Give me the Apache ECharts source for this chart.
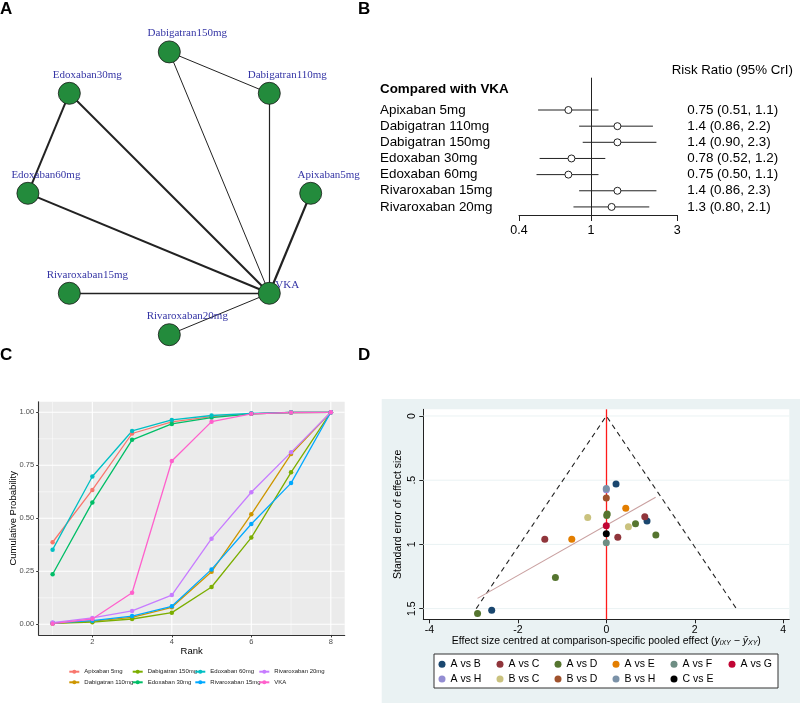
<!DOCTYPE html>
<html><head><meta charset="utf-8">
<script src="https://cdn.jsdelivr.net/npm/echarts@6/dist/echarts.min.js"></script>
<style>html,body{margin:0;padding:0;background:#fff}#c{width:800px;height:703px}</style>
</head><body><div id="c"></div>
<script>
// ---------- Panel A: network ----------
const nodeNames = ['Apixaban5mg','VKA','Rivaroxaban20mg','Rivaroxaban15mg','Edoxaban60mg','Edoxaban30mg','Dabigatran150mg','Dabigatran110mg'];
const nodeAngles = [0, 45, 90, 135, 180, 225, 270, 315]; // circle layout, degrees clockwise from right
const edgeSources = ['Dabigatran150mg','Dabigatran150mg','Dabigatran110mg','Edoxaban30mg','Edoxaban30mg','Edoxaban60mg','Apixaban5mg','Rivaroxaban15mg','Rivaroxaban20mg'];
const edgeTargets = ['Dabigatran110mg','VKA','VKA','VKA','Edoxaban60mg','VKA','VKA','VKA','VKA'];
const edgeWeights = [1, 1, 1.2, 2, 2, 2, 2.2, 1.3, 1];

// ---------- Panel B: forest ----------
const forestLabels = ['Apixaban 5mg','Dabigatran 110mg','Dabigatran 150mg','Edoxaban 30mg','Edoxaban 60mg','Rivaroxaban 15mg','Rivaroxaban 20mg'];
const rrEst  = [0.75, 1.4, 1.4, 0.78, 0.75, 1.4, 1.3];
const rrLow  = [0.51, 0.86, 0.90, 0.52, 0.50, 0.86, 0.80];
const rrHigh = [1.1, 2.2, 2.3, 1.2, 1.1, 2.3, 2.1];
const forestTicks = [0.4, 1, 3];

// ---------- Panel C: cumulative ranking ----------
const ranks = [1,2,3,4,5,6,7,8];
const rankTicks = [2,4,6,8];
const probTicks = [0, 0.25, 0.5, 0.75, 1];
const cNames = ['Apixaban 5mg','Dabigatran 110mg','Dabigatran 150mg','Edoxaban 30mg','Edoxaban 60mg','Rivaroxaban 15mg','Rivaroxaban 20mg','VKA'];
const apixaban5    = [0.387, 0.634, 0.900, 0.955, 0.980, 0.993, 0.999, 1];
const dabigatran110= [0.005, 0.015, 0.033, 0.080, 0.248, 0.519, 0.803, 1];
const dabigatran150= [0.004, 0.010, 0.025, 0.055, 0.176, 0.409, 0.717, 1];
const edoxaban30   = [0.236, 0.575, 0.870, 0.945, 0.975, 0.993, 0.999, 1];
const edoxaban60   = [0.352, 0.697, 0.912, 0.964, 0.985, 0.995, 1.000, 1];
const rivaroxaban15= [0.006, 0.017, 0.039, 0.085, 0.259, 0.473, 0.666, 1];
const rivaroxaban20= [0.008, 0.030, 0.063, 0.138, 0.404, 0.623, 0.811, 1];
const vka          = [0.003, 0.025, 0.149, 0.770, 0.956, 0.993, 0.999, 1];
const cValues = [apixaban5, dabigatran110, dabigatran150, edoxaban30, edoxaban60, rivaroxaban15, rivaroxaban20, vka];
const cColors = ['#F8766D','#CD9600','#7CAE00','#00BE67','#00BFC4','#00A9FF','#C77CFF','#FF61CC'];

// ---------- Panel D: comparison-adjusted funnel ----------
const dNames = ['A vs B','A vs C','A vs D','A vs E','A vs F','A vs G','A vs H','B vs C','B vs D','B vs H','C vs E'];
const dColors = ['#1a476f','#90353b','#55752f','#e37e00','#6e8e84','#c10534','#938dd2','#cac27e','#a0522d','#7b92a8','#000000'];
const dX = [
  [0.22, 0.92, -2.59],
  [-1.39, 0.26, 0.87],
  [0.02, 0.01, 0.66, 1.12, -1.15, -2.91],
  [0.44, -0.78],
  [0.00],
  [0.00],
  [0.00],
  [-0.42, 0.50],
  [0.00],
  [0.00],
  [0.00]
];
const dY = [
  [0.53, 0.818, 1.513],
  [0.96, 0.945, 0.784],
  [0.763, 0.775, 0.839, 0.927, 1.257, 1.537],
  [0.719, 0.96],
  [0.987],
  [0.854],
  [0.575],
  [0.79, 0.862],
  [0.639],
  [0.565],
  [0.916]
];
const funnelX = [-2.94, 0, 2.94];
const funnelY = [1.5, 0, 1.5];
const regX = [-2.91, 1.115];
const regY = [1.42, 0.633];
const dXTicks = [-4, -2, 0, 2, 4];
const dYTicks = [0, 0.5, 1, 1.5];
const dYTickLabels = ['0', '.5', '1', '1.5'];

// ======================================================
const FONT = "'Liberation Sans', Arial, Helvetica, sans-serif";
const SERIF = "'Liberation Serif', 'Times New Roman', serif";
const RAD = Math.PI / 180;
const chart = echarts.init(document.getElementById('c'), null, {renderer: 'canvas', width: 800, height: 703});

const nodeData = nodeNames.map((n, i) => {
  const d = {name: n, value: [Math.cos(nodeAngles[i] * RAD), Math.sin(nodeAngles[i] * RAD)]};
  if (n === 'VKA') d.label = {offset: [18, -8]};
  return d;
});
const linkData = edgeSources.map((s, i) => ({source: s, target: edgeTargets[i], lineStyle: {width: edgeWeights[i]}}));

const fmt2 = v => v.toPrecision(2);
const forestText = forestLabels.map((_, i) => fmt2(rrEst[i]) + ' (' + fmt2(rrLow[i]) + ', ' + fmt2(rrHigh[i]) + ')');
const rowIdx = forestLabels.map((_, i) => i);

function gridLineSeries(xAxisIndex, yAxisIndex, items, color, z) {
  return {
    type: 'custom', xAxisIndex, yAxisIndex, silent: true, z: z, clip: false,
    data: items,
    renderItem: (params, api) => {
      const cs = params.coordSys;
      const dir = api.value(0), v = api.value(1), w = api.value(2);
      if (dir === 0) {
        const x = api.coord([v, 0.5])[0];
        return {type: 'line', shape: {x1: x, y1: cs.y, x2: x, y2: cs.y + cs.height}, style: {stroke: color, lineWidth: w}};
      }
      const y = api.coord([0, v])[1];
      return {type: 'line', shape: {x1: cs.x, y1: y, x2: cs.x + cs.width, y2: y}, style: {stroke: color, lineWidth: w}};
    }
  };
}
const cGrid = [];
rankTicks.forEach(t => { cGrid.push([0, t, 1.1]); cGrid.push([0, t - 1, 0.5]); });
probTicks.forEach((t, i) => { cGrid.push([1, t, 1.1]); if (i > 0) cGrid.push([1, t - 0.125, 0.5]); });
const dGrid = dYTicks.map(t => [1, t, 1]);

const option = {
  animation: false,
  backgroundColor: '#fff',
  textStyle: {fontFamily: FONT},
  grid: [
    {left: 27.9, top: 51.9, width: 282.8, height: 282.8, outerBoundsMode: 'none', containLabel: false, show: false},
    {left: 519, top: 77.7, width: 158.3, height: 137.3, outerBoundsMode: 'none', containLabel: false, show: false},
    {left: 38.7, top: 401.7, width: 306, height: 233.2, outerBoundsMode: 'none', containLabel: false, show: true, backgroundColor: '#ebebeb', borderWidth: 0},
    {left: 423.3, top: 409.3, width: 366, height: 210, outerBoundsMode: 'none', containLabel: false, show: true, backgroundColor: '#ffffff', borderWidth: 0}
  ],
  xAxis: [
    {gridIndex: 0, type: 'value', min: -1, max: 1, show: false},
    {gridIndex: 1, type: 'value', min: Math.log(0.4), max: Math.log(3), position: 'bottom',
     axisLine: {show: true, onZero: false, lineStyle: {color: '#222', width: 1}},
     axisTick: {show: true, length: 6, customValues: forestTicks.map(Math.log), lineStyle: {color: '#222'}},
     axisLabel: {customValues: forestTicks.map(Math.log), margin: 9, fontSize: 12.5, color: '#000', fontFamily: FONT,
       formatter: v => { for (const t of forestTicks) if (Math.abs(Math.log(t) - v) < 1e-6) return String(t); return ''; }},
     splitLine: {show: false}},
    {gridIndex: 2, type: 'value', min: 0.65, max: 8.35, position: 'bottom',
     axisLine: {show: true, onZero: false, lineStyle: {color: '#333', width: 1.1}},
     axisTick: {show: true, length: 2.5, customValues: rankTicks, lineStyle: {color: '#333'}},
     axisLabel: {customValues: rankTicks, margin: 3.5, fontSize: 7.5, color: '#4d4d4d', fontFamily: FONT},
     splitLine: {show: false},
     name: 'Rank', nameLocation: 'middle', nameGap: 11, nameMoveOverlap: false,
     nameTextStyle: {fontSize: 9.5, color: '#000', fontFamily: FONT}},
    {gridIndex: 3, type: 'value', min: -4.136, max: 4.136, position: 'bottom',
     axisLine: {show: true, onZero: false, lineStyle: {color: '#222', width: 1}},
     axisTick: {show: true, length: 4, customValues: dXTicks, lineStyle: {color: '#222'}},
     axisLabel: {customValues: dXTicks, margin: 5, fontSize: 10.5, color: '#000', fontFamily: FONT},
     splitLine: {show: false},
     name: '{n|Effect size centred at comparison-specific pooled effect (}{i|y}{s|iXY}{n| \u2212 }{i|y\u0304}{s|XY}{n|)}',
     nameLocation: 'middle', nameGap: 16, nameMoveOverlap: false,
     nameTextStyle: {fontSize: 10.5, color: '#000', fontFamily: FONT,
       rich: {n: {fontSize: 10.5, fontFamily: FONT, color: '#000'},
              i: {fontSize: 10.5, fontFamily: FONT, fontStyle: 'italic', color: '#000'},
              s: {fontSize: 7, fontFamily: FONT, fontStyle: 'italic', color: '#000', verticalAlign: 'bottom', padding: [4, 0, 0, 0]}}}}
  ],
  yAxis: [
    {gridIndex: 0, type: 'value', min: -1, max: 1, inverse: true, show: false},
    {gridIndex: 1, type: 'value', min: -2, max: 6.5, inverse: true,
     axisLine: {show: false, onZero: false}, axisTick: {show: false}, splitLine: {show: false},
     axisLabel: {customValues: rowIdx, align: 'left', margin: 139, fontSize: 13.4, color: '#000', fontFamily: FONT,
       formatter: v => forestLabels[Math.round(v)]}},
    {gridIndex: 1, type: 'value', min: -2, max: 6.5, inverse: true, position: 'right',
     axisLine: {show: false, onZero: false}, axisTick: {show: false}, splitLine: {show: false},
     axisLabel: {customValues: rowIdx, align: 'left', margin: 10, fontSize: 13.4, color: '#000', fontFamily: FONT,
       formatter: v => forestText[Math.round(v)]}},
    {gridIndex: 2, type: 'value', min: -0.05, max: 1.05, position: 'left',
     axisLine: {show: true, onZero: false, lineStyle: {color: '#333', width: 1.1}},
     axisTick: {show: true, length: 2.5, customValues: probTicks, lineStyle: {color: '#333'}},
     axisLabel: {customValues: probTicks, margin: 4.5, fontSize: 7.5, color: '#4d4d4d', fontFamily: FONT, formatter: v => v.toFixed(2)},
     splitLine: {show: false},
     name: 'Cumulative Probability', nameLocation: 'middle', nameGap: 20.5, nameMoveOverlap: false,
     nameTextStyle: {fontSize: 9.5, color: '#000', fontFamily: FONT}},
    {gridIndex: 3, type: 'value', min: -0.052, max: 1.583, inverse: true, position: 'left',
     axisLine: {show: true, onZero: false, lineStyle: {color: '#222', width: 1}},
     axisTick: {show: true, length: 4, customValues: dYTicks, lineStyle: {color: '#222'}},
     axisLabel: {customValues: dYTicks, rotate: 90, margin: 6, fontSize: 10.5, color: '#000', fontFamily: FONT,
       formatter: v => { const i = dYTicks.findIndex(t => Math.abs(t - v) < 1e-6); return i >= 0 ? dYTickLabels[i] : ''; }},
     splitLine: {show: false},
     name: 'Standard error of effect size', nameLocation: 'middle', nameGap: 20, nameMoveOverlap: false,
     nameTextStyle: {fontSize: 10.5, color: '#000', fontFamily: FONT}}
  ],
  legend: [
    {data: [cNames[0], cNames[1]], left: 68.3, top: 668.2, orient: 'vertical', padding: 0, itemGap: 3.6, itemWidth: 10, itemHeight: 5, selectedMode: false,
     textStyle: {fontSize: 6, lineHeight: 7, color: '#1a1a1a', fontFamily: FONT}},
    {data: [cNames[2], cNames[3]], left: 131.7, top: 668.2, orient: 'vertical', padding: 0, itemGap: 3.6, itemWidth: 10, itemHeight: 5, selectedMode: false,
     textStyle: {fontSize: 6, lineHeight: 7, color: '#1a1a1a', fontFamily: FONT}},
    {data: [cNames[4], cNames[5]], left: 194.3, top: 668.2, orient: 'vertical', padding: 0, itemGap: 3.6, itemWidth: 10, itemHeight: 5, selectedMode: false,
     textStyle: {fontSize: 6, lineHeight: 7, color: '#1a1a1a', fontFamily: FONT}},
    {data: [cNames[6], cNames[7]], left: 258.3, top: 668.2, orient: 'vertical', padding: 0, itemGap: 3.6, itemWidth: 10, itemHeight: 5, selectedMode: false,
     textStyle: {fontSize: 6, lineHeight: 7, color: '#1a1a1a', fontFamily: FONT}},
    {data: dNames.slice(0, 6), left: 438.5, top: 658.3, orient: 'horizontal', padding: 0, itemGap: 6, itemWidth: 7, itemHeight: 7, icon: 'circle', selectedMode: false,
     textStyle: {fontSize: 10.5, lineHeight: 12, width: 40, color: '#000', fontFamily: FONT}},
    {data: dNames.slice(6), left: 438.5, top: 673, orient: 'horizontal', padding: 0, itemGap: 6, itemWidth: 7, itemHeight: 7, icon: 'circle', selectedMode: false,
     textStyle: {fontSize: 10.5, lineHeight: 12, width: 40, color: '#000', fontFamily: FONT}}
  ],
  graphic: [
    {type: 'rect', z: -10, silent: true, shape: {x: 381.7, y: 399, width: 420, height: 310}, style: {fill: '#eaf2f3'}},
    {type: 'rect', z: 3, silent: true, shape: {x: 434, y: 654, width: 344, height: 34}, style: {fill: '#fff', stroke: '#333', lineWidth: 1}},
    {type: 'text', x: 0, y: 9.3, style: {text: 'A', font: 'bold 17px ' + FONT, fill: '#000', textVerticalAlign: 'middle'}},
    {type: 'text', x: 358, y: 9.3, style: {text: 'B', font: 'bold 17px ' + FONT, fill: '#000', textVerticalAlign: 'middle'}},
    {type: 'text', x: 0, y: 355.5, style: {text: 'C', font: 'bold 17px ' + FONT, fill: '#000', textVerticalAlign: 'middle'}},
    {type: 'text', x: 358, y: 355.5, style: {text: 'D', font: 'bold 17px ' + FONT, fill: '#000', textVerticalAlign: 'middle'}},
    {type: 'text', x: 380, y: 89.3, style: {text: 'Compared with VKA', font: 'bold 13.4px ' + FONT, fill: '#000', textVerticalAlign: 'middle'}},
    {type: 'text', x: 671.7, y: 70, style: {text: 'Risk Ratio (95% CrI)', font: '13.3px ' + FONT, fill: '#000', textVerticalAlign: 'middle'}}
  ],
  series: [
    // Panel A
    {type: 'graph', coordinateSystem: 'cartesian2d', xAxisIndex: 0, yAxisIndex: 0, data: nodeData, links: linkData,
     symbol: 'circle', symbolSize: 22, silent: true,
     itemStyle: {color: '#238b3c', borderColor: '#1a1a1a', borderWidth: 0.8},
     lineStyle: {color: '#222', opacity: 1, curveness: 0},
     label: {show: true, position: 'inside', offset: [18, -18.5], color: '#3535a5', fontFamily: SERIF, fontSize: 11},
     emphasis: {disabled: true}},
    // Panel B
    {type: 'custom', xAxisIndex: 1, yAxisIndex: 1, silent: true, z: 3,
     data: rowIdx.map(i => [Math.log(rrLow[i]), Math.log(rrHigh[i]), i]),
     encode: {x: [0, 1], y: 2},
     renderItem: (params, api) => {
       const y = api.value(2);
       const a = api.coord([api.value(0), y]);
       const b = api.coord([api.value(1), y]);
       return {type: 'line', shape: {x1: a[0], y1: a[1], x2: b[0], y2: b[1]}, style: {stroke: '#222', lineWidth: 1}};
     }},
    {type: 'scatter', xAxisIndex: 1, yAxisIndex: 1, silent: true, z: 4, symbol: 'circle', symbolSize: 7,
     data: rowIdx.map(i => [Math.log(rrEst[i]), i]),
     itemStyle: {color: '#fff', borderColor: '#222', borderWidth: 1, opacity: 1},
     markLine: {silent: true, symbol: ['none', 'none'], label: {show: false}, lineStyle: {color: '#222', width: 1, type: 'solid'},
       data: [{xAxis: 0}], animation: false}},
    // Panel C
    gridLineSeries(2, 3, cGrid, '#ffffff', 1),
    ...cNames.map((n, k) => ({
      type: 'line', name: n, xAxisIndex: 2, yAxisIndex: 3, z: 3, silent: true,
      data: ranks.map((r, i) => [r, cValues[k][i]]),
      symbol: 'circle', symbolSize: 4.5, showSymbol: true,
      lineStyle: {color: cColors[k], width: 1.3}, itemStyle: {color: cColors[k]}
    })),
    // Panel D
    gridLineSeries(3, 4, dGrid, '#eaf2f3', 1),
    {type: 'line', xAxisIndex: 3, yAxisIndex: 4, z: 3, silent: true, symbol: 'none',
     data: funnelX.map((x, i) => [x, funnelY[i]]),
     lineStyle: {color: '#222', width: 1.1, type: [5, 4]}},
    {type: 'line', xAxisIndex: 3, yAxisIndex: 4, z: 3, silent: true, symbol: 'none',
     data: regX.map((x, i) => [x, regY[i]]),
     lineStyle: {color: '#c9a0a0', width: 1.1},
     markLine: {silent: true, symbol: ['none', 'none'], label: {show: false}, lineStyle: {color: '#ff1a1a', width: 1.3, type: 'solid'},
       data: [{xAxis: 0}], animation: false}},
    ...dNames.map((n, k) => ({
      type: 'scatter', name: n, xAxisIndex: 3, yAxisIndex: 4, z: 5, silent: true,
      symbol: 'circle', symbolSize: 7,
      data: dX[k].map((x, i) => [x, dY[k][i]]),
      itemStyle: {color: dColors[k], opacity: 1}
    }))
  ]
};
chart.setOption(option);
</script></body></html>
